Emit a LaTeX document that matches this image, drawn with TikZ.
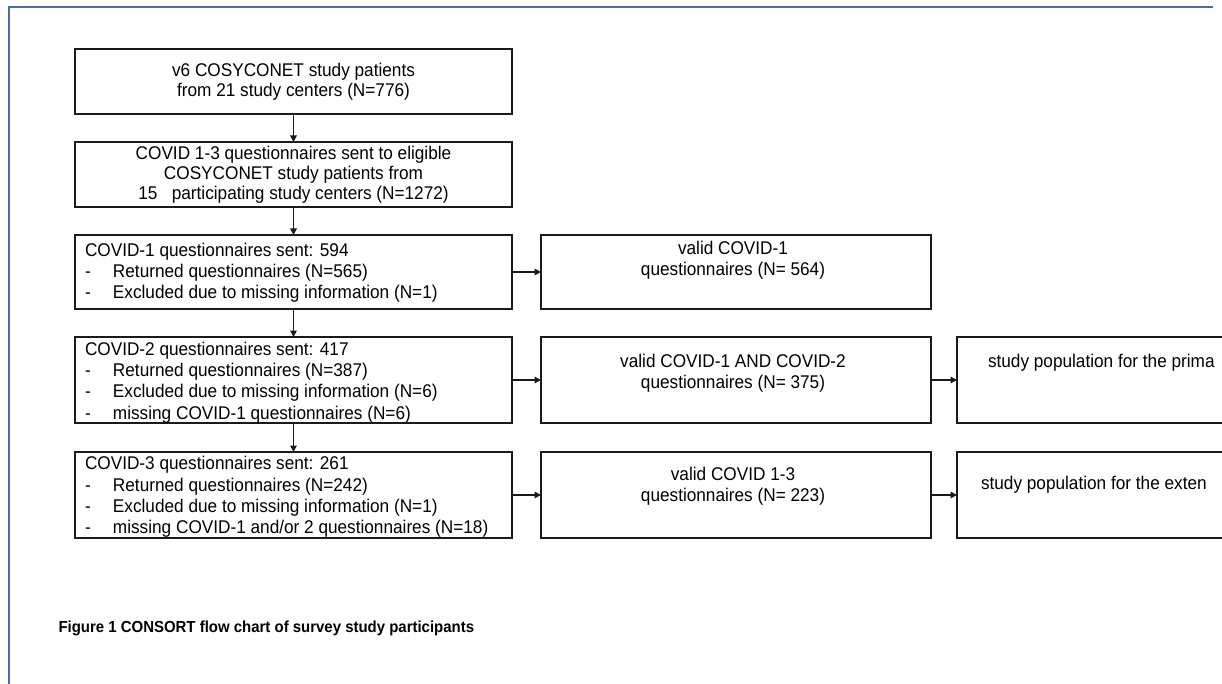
\documentclass[tikz,border=0pt]{standalone}
\usepackage{fontspec}
\setmainfont{Liberation Sans}[FakeStretch=0.935]
\usetikzlibrary{arrows.meta}
\definecolor{FRAME}{HTML}{4A6AAE}
\definecolor{LINE}{HTML}{1A1A1A}
\newcommand{\itemdash}{\makebox[28pt][l]{-}}

\begin{document}
\begin{tikzpicture}[x=1pt, y=-1pt,
		every node/.style={inner sep=0pt, outer sep=0pt, text=black, font=\fontsize{18.4}{21.2}\selectfont},
		headtxt/.style={align=center, font=\fontsize{18.4}{20.2}\selectfont},
		flowbox/.style={draw=LINE, line width=1.7pt, minimum width=437pt},
		validbox/.style={draw=LINE, line width=1.7pt, minimum width=390pt},
		popbox/.style={draw=LINE, line width=1.7pt, minimum width=420pt},
		flowarrow/.style={draw=LINE, line width=1.6pt, -{Triangle[length=6.5pt, width=6.5pt]}}]
				\useasboundingbox (0,0) rectangle (1222,684);
				\clip (0,0) rectangle (1222,684);
				\fill[white] (0,0) rectangle (1222,684);
				\draw[FRAME, line width=1.5pt] (9,684) -- (9,7) -- (1213,7);

				\node [flowbox, minimum height=65pt, headtxt] (b1) at (293.5,81.5) {v6 COSYCONET study patients\\from 21 study centers (N=776)};
				\node [flowbox, minimum height=65pt, headtxt] (b2) at (293.5,174.5) {COVID 1-3 questionnaires sent to eligible\\COSYCONET study patients from\\15\ \ \ participating study centers (N=1272)};
				\node [flowbox, minimum height=74pt] (b3) at (293.5,272) {};
				\node [flowbox, minimum height=86pt] (b4) at (293.5,380) {};
				\node [flowbox, minimum height=86pt] (b5) at (293.5,495) {};

				\node [anchor=west, align=left] (b3t) at (85,273) {COVID-1 questionnaires sent: 594\\\itemdash Returned questionnaires (N=565)\\\itemdash Excluded due to missing information (N=1)};
				\node [anchor=west, align=left] (b4t) at (85,382.5) {COVID-2 questionnaires sent: 417\\\itemdash Returned questionnaires (N=387)\\\itemdash Excluded due to missing information (N=6)\\\itemdash missing COVID-1 questionnaires (N=6)};
				\node [anchor=west, align=left] (b5t) at (85,497) {COVID-3 questionnaires sent: 261\\\itemdash Returned questionnaires (N=242)\\\itemdash Excluded due to missing information (N=1)\\\itemdash missing COVID-1 and/or 2 questionnaires (N=18)};

				\node [validbox, minimum height=74pt] (v1) at (736,272) {};
				\node [validbox, minimum height=86pt] (v2) at (736,380) {};
				\node [validbox, minimum height=86pt] (v3) at (736,495) {};
				\node [align=center] (v1t) at (733,260) {valid COVID-1\\questionnaires (N= 564)};
				\node [align=center] (v2t) at (733,373) {valid COVID-1 AND COVID-2\\questionnaires (N= 375)};
				\node [align=center] (v3t) at (733,486.5) {valid COVID 1-3\\questionnaires (N= 223)};

				\node [popbox, minimum height=86pt] (p1) at (1167,380) {};
				\node [popbox, minimum height=86pt] (p2) at (1167,495) {};
				\node [anchor=west] (p1t) at (988,363) {study population for the prima};
				\node [anchor=west] (p2t) at (981,485) {study population for the exten};

				\draw [flowarrow] (b1) -- (b2);
				\draw [flowarrow] (b2) -- (b3);
				\draw [flowarrow] (b3) -- (b4);
				\draw [flowarrow] (b4) -- (b5);
				\draw [flowarrow] (b3.east) -- (v1.west);
				\draw [flowarrow] (b4.east) -- (v2.west);
				\draw [flowarrow] (b5.east) -- (v3.west);
				\draw [flowarrow] (v2.east) -- (p1.west);
				\draw [flowarrow] (v3.east) -- (p2.west);

				\node [anchor=base west, font=\bfseries\fontsize{16}{18}\selectfont] (cap) at (58.5,632) {Figure 1 CONSORT flow chart of survey study participants};
			\end{tikzpicture}
\end{document}
